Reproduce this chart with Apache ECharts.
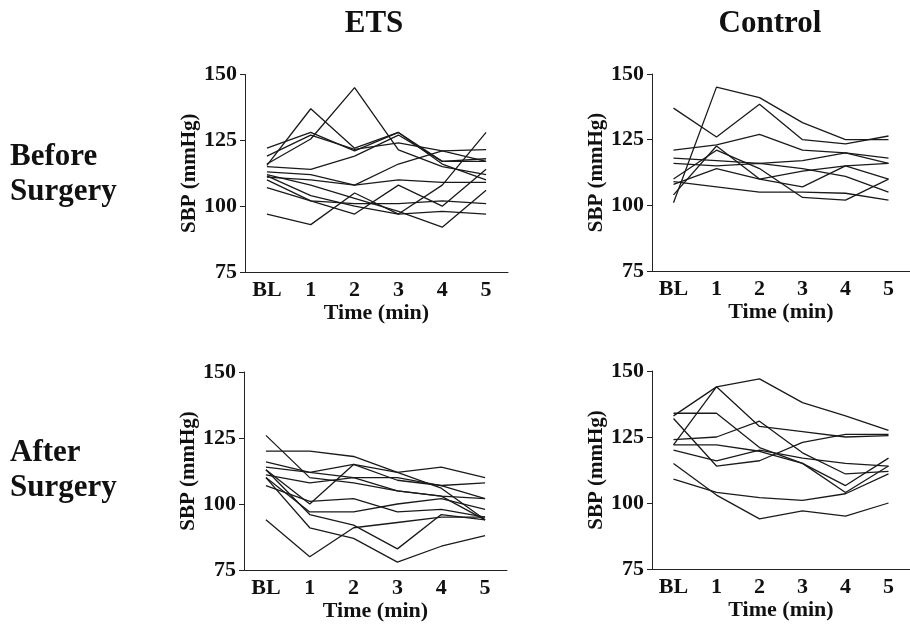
<!DOCTYPE html>
<html>
<head>
<meta charset="utf-8">
<script src="https://cdn.jsdelivr.net/npm/echarts@6/dist/echarts.min.js"></script>
<style>
	html, body { margin: 0; padding: 0; background: #fff; }
	#chart { width: 910px; height: 624px; }
</style>
</head>
<body>
<div id="chart"></div>
<script>
const categories = ['BL', '1', '2', '3', '4', '5']
const yTicks = [75, 100, 125, 150]

// one row per subject, SBP at BL, 1..5 min
const etsBefore = [
	[115.5, 137, 122, 128, 117, 118],
	[116, 125.5, 145, 121.4, 115, 112],
	[122, 128, 121, 128, 116, 110],
	[119, 127, 121.6, 124, 121, 121.5],
	[115, 114, 119, 127, 117, 117],
	[113, 112, 108, 110, 109, 109],
	[111, 110, 108, 116, 121, 117],
	[110, 102, 101, 101, 102, 101],
	[107, 102, 97, 108, 100, 114],
	[97, 93, 105, 97, 108, 128],
	[111.5, 104, 100, 97, 98, 97],
	[112, 108, 103, 98, 92, 106]
]

const controlBefore = [
	[101, 145, 141, 131.5, 125, 125],
	[137, 126, 138.5, 125, 123.4, 126.4],
	[121, 123, 127, 121, 120, 116],
	[118, 117, 116, 117, 120, 118],
	[116, 115, 116, 114, 111, 105],
	[110, 121, 114, 103, 102, 110],
	[108, 114, 110, 107, 115, 110],
	[104, 122.6, 110, 113, 115, 116],
	[109, 107, 105, 105, 104.6, 102]
]

const etsAfter = [
	[126, 110, 108, 105, 103, 94],
	[120, 120, 118, 112, 106, 94],
	[116, 112, 110, 110, 107, 102],
	[114, 112, 115, 112, 114, 110],
	[113, 100, 115, 109, 107, 108],
	[111, 108, 110, 105, 103, 102],
	[110, 97, 97, 100, 102, 98],
	[107, 101, 102, 97, 98, 95],
	[113, 96, 92, 83, 96, 94],
	[110, 91, 87, 78, 84, 88],
	[94, 80, 91, 93, 95, 95]
]

const controlAfter = [
	[122, 144, 147, 138, 133, 127.5],
	[133, 144, 129, 127, 125, 125.5],
	[124, 125, 131, 119, 111, 112],
	[134, 134, 121, 115, 104, 114],
	[132, 114, 116, 123, 126, 126],
	[120, 116, 120, 117, 115, 114],
	[122, 122, 119.6, 115, 106.6, 117],
	[115, 103, 94, 97, 95, 100],
	[109, 104, 102, 101, 103.5, 111]
]

const node = document.getElementById('chart')
const myChart = echarts.init(node)

const serif = '"Liberation Serif", "DejaVu Serif", serif'

const panels = [
	{ data: etsBefore, left: 245, top: 74.5, height: 197.5, nameGap: 44 },
	{ data: controlBefore, left: 652, top: 74, height: 197, nameGap: 42 },
	{ data: etsAfter, left: 244, top: 372, height: 198, nameGap: 44 },
	{ data: controlAfter, left: 652, top: 371, height: 198, nameGap: 42 }
]

const grid = panels.map(p => ({ left: p.left, top: p.top, width: 263, height: p.height }))

const xAxis = panels.map((p, i) => ({
	type: 'category',
	gridIndex: i,
	data: categories,
	boundaryGap: true,
	name: 'Time (min)',
	nameLocation: 'middle',
	nameGap: 29,
	nameTextStyle: { fontFamily: serif, fontWeight: 'bold', fontSize: 22, color: '#111' },
	axisLine: { lineStyle: { color: '#222', width: 1 } },
	axisTick: { show: false },
	axisLabel: { fontFamily: serif, fontWeight: 'bold', fontSize: 22, color: '#111', margin: 7 },
	splitLine: { show: false }
}))

const yAxis = panels.map((p, i) => ({
	type: 'value',
	gridIndex: i,
	min: yTicks[0],
	max: yTicks[yTicks.length - 1],
	interval: 25,
	name: 'SBP (mmHg)',
	nameLocation: 'middle',
	nameGap: p.nameGap,
	nameTextStyle: { fontFamily: serif, fontWeight: 'bold', fontSize: 21, color: '#111' },
	axisLine: { show: true, lineStyle: { color: '#222', width: 1 } },
	axisTick: { show: true, length: 5, lineStyle: { color: '#222' } },
	axisLabel: { fontFamily: serif, fontWeight: 'bold', fontSize: 22, color: '#111', margin: 8 },
	splitLine: { show: false }
}))

const series = []
panels.forEach((p, i) => {
	p.data.forEach(row => {
		series.push({
			type: 'line',
			xAxisIndex: i,
			yAxisIndex: i,
			data: row,
			symbol: 'none',
			lineStyle: { color: '#1a1a1a', width: 1.3 },
			silent: true
		})
	})
})

const label = (text, x, y, align) => ({
	type: 'text',
	x: x,
	y: y,
	style: {
		text: text,
		fontFamily: serif,
		fontWeight: 'bold',
		fontSize: 31,
		lineHeight: 35,
		fill: '#111',
		align: align,
		verticalAlign: 'middle'
	}
})

const option = {
	animation: false,
	backgroundColor: '#fff',
	grid: grid,
	xAxis: xAxis,
	yAxis: yAxis,
	series: series,
	graphic: [
		label('ETS', 374, 24, 'center'),
		label('Control', 770, 24, 'center'),
		label('Before\nSurgery', 10, 174, 'left'),
		label('After\nSurgery', 10, 470, 'left')
	]
}

myChart.setOption(option)
</script>
</body>
</html>
